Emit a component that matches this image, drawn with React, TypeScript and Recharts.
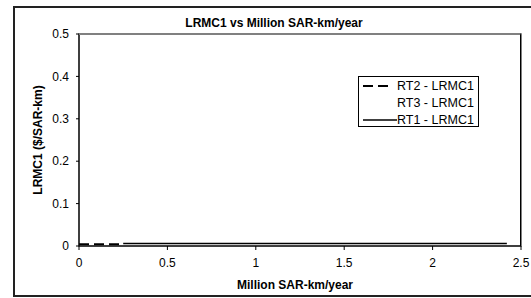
import { LineChart, Line, XAxis, YAxis, ReferenceArea } from "recharts";

const xTicks = [0, 0.5, 1, 1.5, 2, 2.5];
const yTicks = [0, 0.1, 0.2, 0.3, 0.4, 0.5];

const rt2X = [0, 0.05, 0.1, 0.15, 0.2, 0.25];
const rt2Y = [0.004, 0.004, 0.004, 0.004, 0.004, 0.004];

const rt1X = [0.25, 0.5, 0.75, 1, 1.25, 1.5, 1.75, 2, 2.25, 2.42];
const rt1Y = [0.006, 0.006, 0.006, 0.006, 0.006, 0.006, 0.006, 0.006, 0.006, 0.006];

const rt3X = [0.25, 2.42];
const rt3Y = [0.007, 0.007];

const rt2 = rt2X.map((x, i) => ({ x, y: rt2Y[i] }));
const rt1 = rt1X.map((x, i) => ({ x, y: rt1Y[i] }));
const rt3 = rt3X.map((x, i) => ({ x, y: rt3Y[i] }));

const font = "'Liberation Sans', Arial, sans-serif";

function LegendBox() {
  const row = { display: "flex", alignItems: "center", height: 17 };
  return (
    <div
      style={{
        position: "absolute",
        left: 358,
        top: 76,
        width: 121,
        height: 51,
        border: "1px solid #000",
        background: "#fff",
        fontFamily: font,
        fontSize: 12.5,
        boxSizing: "border-box",
        zIndex: 6,
      }}
    >
      <div style={row}>
        <svg width={38} height={4}>
          <line x1={4} y1={2} x2={34} y2={2} stroke="#000" strokeWidth={2} strokeDasharray="10 5" />
        </svg>
        <span>RT2 - LRMC1</span>
      </div>
      <div style={row}>
        <svg width={38} height={4} />
        <span>RT3 - LRMC1</span>
      </div>
      <div style={row}>
        <svg width={38} height={4}>
          <line x1={4} y1={2} x2={38} y2={2} stroke="#000" strokeWidth={1.5} />
        </svg>
        <span>RT1 - LRMC1</span>
      </div>
    </div>
  );
}

export default function App() {
  const tick = { fontFamily: font, fontSize: 12, fill: "#000" };
  const bold = { fontFamily: font, fontSize: 12, fontWeight: "bold" as const };
  return (
    <div
      style={{
        position: "absolute",
        left: 0,
        top: 0,
        width: 531,
        height: 298,
        overflow: "hidden",
        background: "#fff",
      }}
    >
      <div
        style={{
          position: "absolute",
          left: 13,
          top: 6,
          width: 540,
          height: 287,
          border: "2px solid #222",
        }}
      />
      <LineChart
        width={531}
        height={298}
        margin={{ top: 34, right: 10, bottom: 22, left: 14 }}
        style={{ position: "absolute", left: 0, top: 0 }}
      >
        <XAxis
          dataKey="x"
          type="number"
          domain={[0, 2.5]}
          ticks={xTicks}
          height={30}
          tickSize={4}
          tickMargin={8}
          tick={tick}
          stroke="#000"
          allowDuplicatedCategory={false}
        />
        <YAxis
          type="number"
          domain={[0, 0.5]}
          ticks={yTicks}
          width={65}
          tickSize={3}
          tickMargin={7}
          tick={tick}
          stroke="#000"
        />
        <ReferenceArea
          x1={0}
          x2={2.5}
          y1={0}
          y2={0.5}
          fill="none"
          fillOpacity={0}
          stroke="#555"
          strokeWidth={1.5}
          ifOverflow="visible"
        />
        <Line
          data={rt3}
          dataKey="y"
          stroke="#fff"
          strokeWidth={1}
          dot={false}
          isAnimationActive={false}
        />
        <Line
          data={rt1}
          dataKey="y"
          stroke="#000"
          strokeWidth={1.5}
          dot={false}
          isAnimationActive={false}
        />
        <Line
          data={rt2}
          dataKey="y"
          stroke="#000"
          strokeWidth={2}
          strokeDasharray="10 5"
          dot={false}
          isAnimationActive={false}
        />
      </LineChart>
      {/* plot-area frame: top (grey) and right (black) edges */}
      <div
        style={{
          position: "absolute",
          left: 79,
          top: 33,
          width: 442,
          height: 213,
          borderTop: "2px solid #808080",
          borderRight: "1px solid #000",
          boxSizing: "border-box",
          pointerEvents: "none",
          zIndex: 5,
        }}
      />
      <div
        style={{
          ...bold,
          position: "absolute",
          left: 0,
          width: 548,
          top: 16,
          textAlign: "center",
          zIndex: 6,
        }}
      >
        LRMC1 vs Million SAR-km/year
      </div>
      <div
        style={{
          ...bold,
          position: "absolute",
          left: 79,
          width: 432,
          top: 278,
          textAlign: "center",
          zIndex: 6,
        }}
      >
        Million SAR-km/year
      </div>
      <div
        style={{
          ...bold,
          position: "absolute",
          left: 38,
          top: 140,
          transform: "translate(-50%, -50%) rotate(-90deg)",
          whiteSpace: "nowrap",
          zIndex: 6,
        }}
      >
        LRMC1 ($/SAR-km)
      </div>
      <LegendBox />
    </div>
  );
}
